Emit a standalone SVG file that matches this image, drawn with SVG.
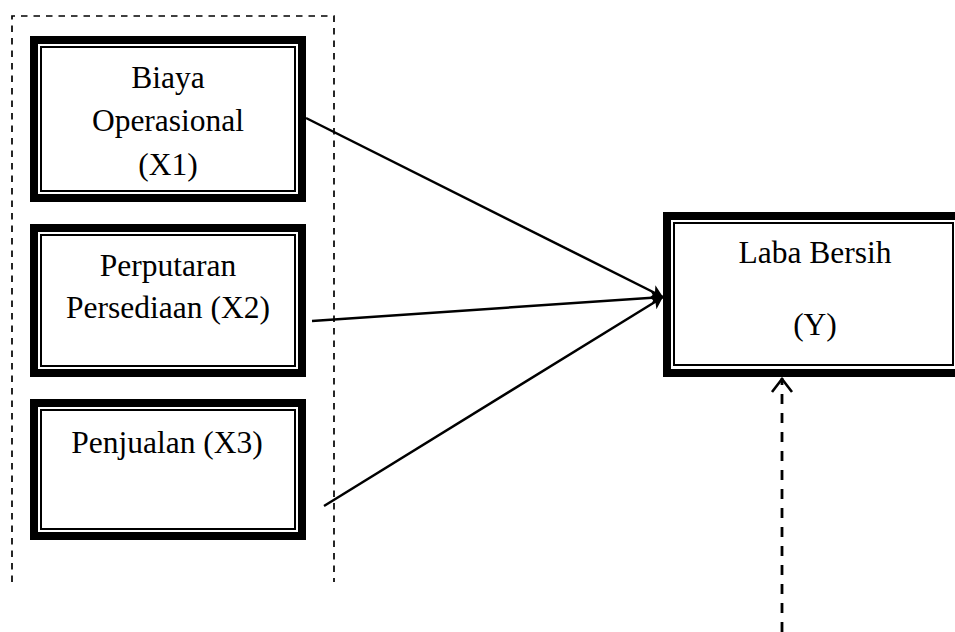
<svg xmlns="http://www.w3.org/2000/svg" width="955" height="632" viewBox="0 0 955 632">
  <style>
    .outer { fill: #fff; stroke: #000; stroke-width: 8; }
    .inner { fill: none; stroke: #000; stroke-width: 2; }
    .lbl { font-family: "Liberation Serif", "Times New Roman", serif; font-size: 31.5px; fill: #000; text-anchor: middle; }
    .frame { fill: none; stroke: #000; stroke-width: 1.7; stroke-dasharray: 6.5 6; }
    .edge { fill: none; stroke: #000; stroke-width: 2.5; }
  </style>
  <defs>
    <marker id="filled" viewBox="0 0 12 14" refX="12" refY="7" markerWidth="12" markerHeight="14" markerUnits="userSpaceOnUse" orient="auto">
      <path d="M0,0 L12,7 L0,14 L3,7 Z" fill="#000"/>
    </marker>
    <marker id="open" viewBox="0 0 16 24" refX="15" refY="12" markerWidth="16" markerHeight="24" markerUnits="userSpaceOnUse" orient="auto">
      <path d="M1,2 L14,12 L1,22" fill="none" stroke="#000" stroke-width="2.6"/>
    </marker>
  </defs>

  <g id="frame">
    <path class="frame" d="M12,582 L12,16 L334,16 L334,582"/>
  </g>

  <g id="connectors">
    <line class="edge" x1="306" y1="118" x2="663" y2="297" marker-end="url(#filled)"/>
    <line class="edge" x1="312" y1="321" x2="663" y2="297" marker-end="url(#filled)"/>
    <line class="edge" x1="324" y1="506" x2="663" y2="297" marker-end="url(#filled)"/>
    <line x1="782" y1="632" x2="782" y2="378" stroke="#000" stroke-width="2.8" stroke-dasharray="10 9" marker-end="url(#open)"/>
  </g>

  <g id="x1">
    <rect class="outer" x="34" y="40" width="268" height="158"/>
    <rect class="inner" x="41" y="47" width="254" height="144"/>
    <text class="lbl" x="168" y="88">Biaya</text>
    <text class="lbl" x="168" y="131">Operasional</text>
    <text class="lbl" x="168" y="175">(X1)</text>
  </g>

  <g id="x2">
    <rect class="outer" x="34" y="228" width="268" height="145"/>
    <rect class="inner" x="41" y="235" width="254" height="131"/>
    <text class="lbl" x="168" y="276">Perputaran</text>
    <text class="lbl" x="168" y="318">Persediaan (X2)</text>
  </g>

  <g id="x3">
    <rect class="outer" x="34" y="403" width="268" height="133"/>
    <rect class="inner" x="41" y="410" width="254" height="119"/>
    <text class="lbl" x="167" y="453">Penjualan (X3)</text>
  </g>

  <g id="y">
    <rect class="outer" x="667" y="216" width="293" height="157"/>
    <rect class="inner" x="674" y="223" width="279" height="142"/>
    <text class="lbl" x="815" y="263">Laba Bersih</text>
    <text class="lbl" x="815" y="335">(Y)</text>
  </g>
</svg>
